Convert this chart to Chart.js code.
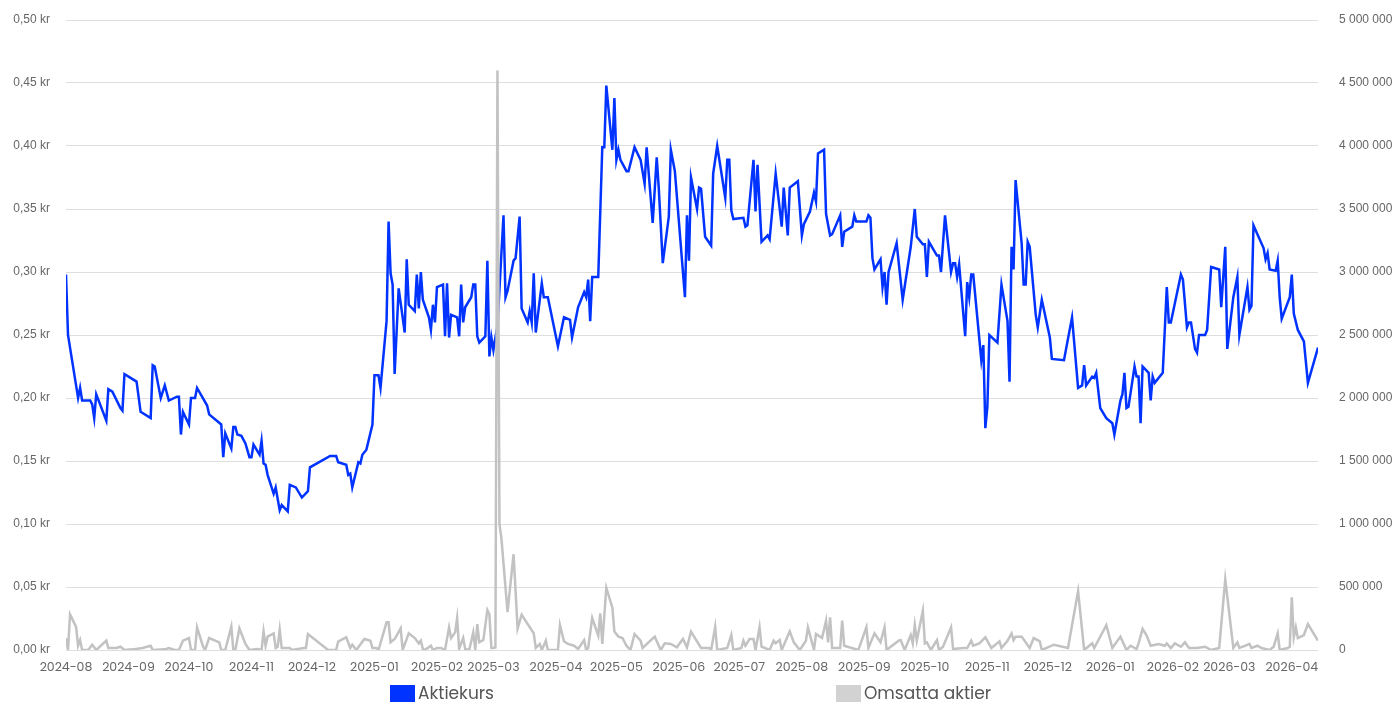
<!DOCTYPE html>
<html lang="sv">

<head>
    <meta charset="UTF-8">
    <meta name="viewport" content="width=device-width, initial-scale=1.0">
    <script src="https://cdn.jsdelivr.net/npm/chart.js"></script>
    <title>Aktiekurs och omsättning</title>
    <style>
        body { margin: 0; background: #fff; }
        .wrap { position: relative; width: 1397px; height: 702px; overflow: hidden; }
        #chart_aktie { display: block; }
        .legend-item { position: absolute; top: 683px; height: 20px; display: flex; align-items: center;
            font-family: Poppins, "Open Sans", sans-serif; font-size: 17px; color: #555; }
        .legend-box { width: 25px; height: 17px; margin-right: 3px; }
    </style>
</head>

<body>
    <div class="wrap">
        <canvas id="chart_aktie" width="1397" height="702"></canvas>
        <div class="legend-item" style="left:390px"><span class="legend-box" style="background:#0033ff"></span>Aktiekurs</div>
        <div class="legend-item" style="left:836px"><span class="legend-box" style="background:#d2d2d2"></span>Omsatta aktier</div>
    </div>

<script>
    // Aktiekurs (kr) per handelsdag
    var kursDatum = [
        '2024-08-01','2024-08-02','2024-08-03','2024-08-07','2024-08-08','2024-08-09','2024-08-13','2024-08-14','2024-08-15','2024-08-16',
        '2024-08-21','2024-08-22','2024-08-24','2024-08-28','2024-08-29','2024-08-30',
        '2024-09-01','2024-09-05','2024-09-07','2024-09-12','2024-09-13','2024-09-14','2024-09-17','2024-09-19','2024-09-21','2024-09-25',
        '2024-09-26','2024-09-27','2024-09-28',
        '2024-10-01','2024-10-02','2024-10-04','2024-10-05','2024-10-10','2024-10-11','2024-10-17','2024-10-18','2024-10-19','2024-10-22',
        '2024-10-23','2024-10-24','2024-10-25','2024-10-27','2024-10-29','2024-10-31',
        '2024-11-01','2024-11-02','2024-11-05','2024-11-06','2024-11-07','2024-11-08','2024-11-09','2024-11-12','2024-11-13','2024-11-15',
        '2024-11-16','2024-11-19','2024-11-20','2024-11-23','2024-11-26','2024-11-29','2024-11-30',
        '2024-12-10','2024-12-13','2024-12-14','2024-12-18','2024-12-19','2024-12-20','2024-12-21','2024-12-24','2024-12-25','2024-12-26',
        '2024-12-28','2024-12-31',
        '2025-01-01','2025-01-03','2025-01-04','2025-01-07','2025-01-08','2025-01-09','2025-01-10','2025-01-11','2025-01-13','2025-01-16',
        '2025-01-17','2025-01-18','2025-01-21','2025-01-22','2025-01-23','2025-01-24','2025-01-25','2025-01-28','2025-01-29','2025-01-30',
        '2025-01-31',
        '2025-02-01','2025-02-04','2025-02-05','2025-02-06','2025-02-07','2025-02-08','2025-02-11','2025-02-12','2025-02-13','2025-02-14',
        '2025-02-15','2025-02-18','2025-02-19','2025-02-20','2025-02-21','2025-02-22','2025-02-25','2025-02-26','2025-02-27','2025-02-28',
        '2025-03-01','2025-03-02','2025-03-03','2025-03-06','2025-03-07','2025-03-08','2025-03-11','2025-03-12','2025-03-14','2025-03-15',
        '2025-03-18','2025-03-19','2025-03-20','2025-03-21','2025-03-22','2025-03-25','2025-03-26','2025-03-28',
        '2025-04-02','2025-04-05','2025-04-08','2025-04-09','2025-04-12','2025-04-15','2025-04-16','2025-04-17','2025-04-18','2025-04-19',
        '2025-04-22','2025-04-24','2025-04-25','2025-04-26','2025-04-29','2025-04-30',
        '2025-05-01','2025-05-02','2025-05-03','2025-05-06','2025-05-07','2025-05-10','2025-05-13','2025-05-15','2025-05-16','2025-05-19',
        '2025-05-21','2025-05-22','2025-05-24','2025-05-27','2025-05-28','2025-05-30',
        '2025-06-04','2025-06-05','2025-06-06','2025-06-07','2025-06-10','2025-06-11','2025-06-12','2025-06-14','2025-06-17','2025-06-18',
        '2025-06-20','2025-06-24','2025-06-25','2025-06-26','2025-06-27','2025-06-28',
        '2025-07-03','2025-07-04','2025-07-05','2025-07-08','2025-07-09','2025-07-10','2025-07-12','2025-07-15','2025-07-16','2025-07-19',
        '2025-07-22','2025-07-23','2025-07-25','2025-07-26','2025-07-30',
        '2025-08-01','2025-08-02','2025-08-05','2025-08-07','2025-08-08','2025-08-09','2025-08-12','2025-08-13','2025-08-15','2025-08-16',
        '2025-08-20','2025-08-21','2025-08-22','2025-08-26','2025-08-27','2025-08-28',
        '2025-09-02','2025-09-03','2025-09-04','2025-09-05','2025-09-06','2025-09-09','2025-09-10','2025-09-11','2025-09-12','2025-09-13',
        '2025-09-17','2025-09-20','2025-09-24','2025-09-26','2025-09-27','2025-09-30',
        '2025-10-01','2025-10-02','2025-10-03','2025-10-07','2025-10-08','2025-10-09','2025-10-11','2025-10-14','2025-10-15','2025-10-16',
        '2025-10-17','2025-10-18','2025-10-21','2025-10-22','2025-10-23','2025-10-24','2025-10-25','2025-10-29','2025-10-30','2025-10-31',
        '2025-11-01','2025-11-02','2025-11-06','2025-11-08','2025-11-11','2025-11-12','2025-11-13','2025-11-14','2025-11-15','2025-11-18',
        '2025-11-19','2025-11-20','2025-11-21','2025-11-22','2025-11-25','2025-11-26','2025-11-28',
        '2025-12-02','2025-12-03','2025-12-09','2025-12-13','2025-12-16','2025-12-18','2025-12-19','2025-12-20','2025-12-23','2025-12-24',
        '2025-12-25','2025-12-27','2025-12-30',
        '2026-01-02','2026-01-03','2026-01-06','2026-01-07','2026-01-08','2026-01-09','2026-01-10','2026-01-13','2026-01-14','2026-01-15',
        '2026-01-16','2026-01-17','2026-01-20','2026-01-21','2026-01-22','2026-01-23','2026-01-27','2026-01-29','2026-01-30','2026-01-31',
        '2026-02-05','2026-02-06','2026-02-08','2026-02-09','2026-02-10','2026-02-12','2026-02-13','2026-02-14','2026-02-17','2026-02-18',
        '2026-02-20','2026-02-24','2026-02-25','2026-02-27','2026-02-28',
        '2026-03-03','2026-03-05','2026-03-06','2026-03-10','2026-03-11','2026-03-12','2026-03-13','2026-03-18','2026-03-19','2026-03-20',
        '2026-03-21','2026-03-24','2026-03-25','2026-03-26','2026-03-27','2026-03-31',
        '2026-04-01','2026-04-02','2026-04-04','2026-04-07','2026-04-09','2026-04-14'
    ];
    var kurs = [
        0.298,0.250,0.240,0.200,0.208,0.198,0.198,0.195,0.184,0.203,
        0.182,0.207,0.205,0.192,0.190,0.219,
        0.217,0.213,0.189,0.184,0.226,0.225,0.200,0.210,0.198,0.201,
        0.201,0.171,0.189,
        0.179,0.200,0.200,0.208,0.194,0.187,0.179,0.153,0.172,0.160,
        0.177,0.177,0.171,0.170,0.164,0.153,
        0.153,0.163,0.155,0.166,0.148,0.147,0.139,0.124,0.129,0.111,
        0.115,0.110,0.131,0.129,0.121,0.126,0.145,
        0.154,0.154,0.149,0.147,0.139,0.140,0.129,0.149,0.148,0.155,
        0.159,0.179,
        0.218,0.218,0.208,0.261,0.340,0.299,0.290,0.219,0.287,0.252,
        0.310,0.274,0.269,0.298,0.271,0.300,0.278,0.264,0.254,0.274,
        0.260,
        0.288,0.290,0.249,0.291,0.248,0.266,0.264,0.249,0.290,0.260,
        0.272,0.280,0.290,0.290,0.249,0.244,0.249,0.309,0.233,0.248,
        0.238,0.248,0.257,0.345,0.280,0.285,0.309,0.311,0.344,0.271,
        0.260,0.269,0.260,0.299,0.252,0.291,0.280,0.280,
        0.241,0.264,0.262,0.248,0.272,0.284,0.280,0.294,0.261,0.296,
        0.296,0.399,0.399,0.448,0.397,0.438,
        0.389,0.397,0.389,0.380,0.380,0.399,0.389,0.370,0.399,0.339,
        0.391,0.367,0.307,0.344,0.397,0.380,
        0.280,0.345,0.309,0.375,0.350,0.367,0.366,0.328,0.321,0.378,
        0.400,0.359,0.389,0.389,0.349,0.342,
        0.343,0.336,0.337,0.389,0.348,0.385,0.324,0.329,0.326,0.378,
        0.336,0.367,0.329,0.367,0.372,
        0.329,0.338,0.348,0.363,0.356,0.394,0.397,0.346,0.329,0.330,
        0.345,0.320,0.332,0.336,0.345,0.340,
        0.340,0.345,0.343,0.311,0.302,0.310,0.288,0.300,0.274,0.300,
        0.323,0.278,0.320,0.350,0.328,0.322,
        0.322,0.296,0.324,0.313,0.313,0.300,0.345,0.300,0.307,0.307,
        0.296,0.306,0.249,0.292,0.280,0.298,0.298,0.230,0.242,0.176,
        0.193,0.250,0.244,0.290,0.261,0.213,0.320,0.302,0.373,0.323,
        0.290,0.290,0.324,0.320,0.266,0.256,0.278,
        0.248,0.231,0.230,0.264,0.208,0.210,0.226,0.210,0.217,0.216,
        0.220,0.192,0.184,
        0.180,0.171,0.198,0.203,0.220,0.192,0.193,0.225,0.217,0.217,
        0.180,0.225,0.220,0.198,0.217,0.212,0.220,0.288,0.260,0.260,
        0.298,0.294,0.256,0.260,0.260,0.239,0.236,0.250,0.250,0.254,
        0.304,0.302,0.272,0.320,0.239,
        0.280,0.296,0.250,0.288,0.270,0.273,0.337,0.319,0.310,0.315,
        0.302,0.301,0.309,0.280,0.263,0.280,
        0.298,0.267,0.254,0.245,0.212,0.240
    ];

    // Omsatta aktier per dag
    var volymDatum = [
        '2024-08-01','2024-08-02','2024-08-03','2024-08-06','2024-08-07','2024-08-08','2024-08-09','2024-08-12','2024-08-14','2024-08-16',
        '2024-08-21','2024-08-22','2024-08-26','2024-08-28','2024-08-30',
        '2024-09-03','2024-09-08','2024-09-12','2024-09-13','2024-09-19','2024-09-21','2024-09-24','2024-09-26','2024-09-28',
        '2024-10-01','2024-10-02','2024-10-04','2024-10-05','2024-10-08','2024-10-09','2024-10-11','2024-10-16','2024-10-17','2024-10-19',
        '2024-10-22','2024-10-23','2024-10-24','2024-10-26','2024-10-29','2024-10-31',
        '2024-11-04','2024-11-06','2024-11-07','2024-11-08','2024-11-09','2024-11-12','2024-11-13','2024-11-14','2024-11-15','2024-11-16',
        '2024-11-20','2024-11-21','2024-11-27','2024-11-28','2024-11-29',
        '2024-12-09','2024-12-13','2024-12-14','2024-12-18','2024-12-20','2024-12-21','2024-12-23','2024-12-27','2024-12-30','2024-12-31',
        '2025-01-02','2025-01-03','2025-01-07','2025-01-08','2025-01-09','2025-01-11','2025-01-14','2025-01-15','2025-01-18','2025-01-21',
        '2025-01-23','2025-01-24','2025-01-25','2025-01-26','2025-01-29','2025-01-30',
        '2025-02-01','2025-02-03','2025-02-05','2025-02-07','2025-02-08','2025-02-10','2025-02-11','2025-02-12','2025-02-14','2025-02-15',
        '2025-02-17','2025-02-19','2025-02-20','2025-02-21','2025-02-22','2025-02-24','2025-02-26','2025-02-27','2025-02-28',
        '2025-03-01','2025-03-02','2025-03-03','2025-03-04','2025-03-05','2025-03-08','2025-03-11','2025-03-13','2025-03-15','2025-03-21',
        '2025-03-22','2025-03-24','2025-03-25','2025-03-27','2025-03-28',
        '2025-04-02','2025-04-03','2025-04-05','2025-04-07','2025-04-10','2025-04-12','2025-04-15','2025-04-16','2025-04-17','2025-04-19',
        '2025-04-22','2025-04-23','2025-04-24','2025-04-26','2025-04-29','2025-04-30',
        '2025-05-02','2025-05-04','2025-05-06','2025-05-08','2025-05-10','2025-05-13','2025-05-14','2025-05-20','2025-05-23','2025-05-25',
        '2025-05-28','2025-05-31',
        '2025-06-03','2025-06-05','2025-06-07','2025-06-12','2025-06-16','2025-06-17','2025-06-19','2025-06-20','2025-06-25','2025-06-27',
        '2025-06-28',
        '2025-07-02','2025-07-03','2025-07-04','2025-07-06','2025-07-08','2025-07-09','2025-07-11','2025-07-12','2025-07-16','2025-07-18',
        '2025-07-19','2025-07-21','2025-07-22','2025-07-26','2025-07-28','2025-07-31',
        '2025-08-03','2025-08-04','2025-08-07','2025-08-08','2025-08-11','2025-08-13','2025-08-14','2025-08-15','2025-08-16','2025-08-20',
        '2025-08-21','2025-08-22','2025-08-29',
        '2025-09-02','2025-09-03','2025-09-06','2025-09-09','2025-09-11','2025-09-12','2025-09-18','2025-09-19','2025-09-21','2025-09-24',
        '2025-09-25','2025-09-26','2025-09-27','2025-09-30',
        '2025-10-01','2025-10-02','2025-10-04','2025-10-07','2025-10-08','2025-10-10','2025-10-14','2025-10-15','2025-10-20','2025-10-22',
        '2025-10-24','2025-10-25','2025-10-28','2025-10-31',
        '2025-11-03','2025-11-07','2025-11-08','2025-11-11','2025-11-13','2025-11-14','2025-11-15','2025-11-18','2025-11-22','2025-11-24',
        '2025-11-27','2025-11-28',
        '2025-12-04','2025-12-11','2025-12-16','2025-12-19','2025-12-23','2025-12-24','2025-12-30',
        '2026-01-02','2026-01-06','2026-01-09','2026-01-11','2026-01-14','2026-01-15','2026-01-17','2026-01-19','2026-01-21','2026-01-25',
        '2026-01-28','2026-01-29','2026-01-31',
        '2026-02-02','2026-02-05','2026-02-07','2026-02-09','2026-02-13','2026-02-17','2026-02-20','2026-02-24','2026-02-27',
        '2026-03-03','2026-03-05','2026-03-06','2026-03-09','2026-03-11','2026-03-12','2026-03-15','2026-03-17','2026-03-21','2026-03-23',
        '2026-03-25','2026-03-26','2026-03-30','2026-03-31',
        '2026-04-01','2026-04-02','2026-04-03','2026-04-04','2026-04-07','2026-04-09','2026-04-14'
    ];
    var volym = [
        93000,0,283000,183000,34000,79000,0,0,42000,0,
        74000,16000,16000,26000,0,
        5000,16000,34000,0,5000,16000,0,0,74000,
        95000,0,0,180000,26000,0,95000,61000,0,0,
        185000,0,0,172000,48000,0,
        8000,0,148000,34000,106000,132000,16000,26000,161000,16000,
        16000,0,16000,16000,127000,
        0,0,66000,101000,16000,42000,0,87000,74000,16000,
        16000,0,220000,220000,61000,87000,172000,0,132000,95000,
        53000,74000,8000,0,34000,0,
        16000,16000,0,180000,95000,140000,254000,8000,95000,8000,
        0,140000,0,206000,61000,79000,317000,283000,16000,
        16000,20000,4600000,1000000,880000,300000,760000,170000,280000,132000,
        16000,48000,0,74000,0,
        0,198000,69000,48000,34000,8000,79000,0,16000,254000,
        114000,291000,48000,494000,336000,146000,
        106000,95000,34000,0,127000,74000,16000,106000,0,53000,
        48000,21000,
        87000,21000,146000,16000,16000,0,183000,0,16000,119000,
        0,
        16000,74000,34000,87000,87000,0,180000,26000,0,74000,
        53000,79000,0,148000,61000,0,
        74000,180000,0,127000,95000,233000,61000,260000,16000,16000,
        233000,34000,0,
        180000,16000,132000,61000,180000,0,74000,79000,0,119000,
        53000,198000,74000,312000,
        53000,61000,0,79000,0,26000,180000,8000,16000,16000,
        74000,34000,53000,101000,
        16000,69000,16000,74000,132000,79000,106000,106000,16000,95000,
        69000,0,
        42000,16000,468000,0,53000,16000,198000,
        16000,106000,0,34000,8000,53000,167000,114000,34000,48000,
        34000,53000,16000,
        53000,26000,61000,16000,16000,26000,0,16000,561000,
        16000,61000,16000,34000,48000,16000,34000,16000,0,26000,
        132000,0,16000,26000,
        418000,101000,180000,95000,119000,206000,74000
    ];

    // Etiketter på x-axeln (en per månad)
    var manader = ['2024-08','2024-09','2024-10','2024-11','2024-12','2025-01','2025-02','2025-03','2025-04','2025-05','2025-06',
        '2025-07','2025-08','2025-09','2025-10','2025-11','2025-12','2026-01','2026-02','2026-03','2026-04'];

    var start = Date.parse('2024-08-01');
    function dag(datum) {
        return Math.round((Date.parse(datum) - start) / 86400000);
    }

    function mellanslag(n) {
        return String(n).replace(/\B(?=(\d{3})+(?!\d))/g, ' ');
    }

    var manadsDagar = manader.map(function (m) { return dag(m + '-01'); });

    var axelFont = { family: "Helvetica, Arial, sans-serif", size: 12 };
    var datumFont = { family: "Poppins, 'Open Sans', sans-serif", size: 12.5 };

    // y-axlarnas tick-padding ska inte flytta ritytans över-/underkant
    function fastBredd(bredd) {
        return function (scale) {
            scale.width = bredd;
            scale.paddingTop = 0;
            scale.paddingBottom = 0;
        };
    }

    const config_aktie = {
        type: 'line',
        data: {
            datasets: [{
                label: 'Aktiekurs',
                data: kursDatum.map(function (d, i) { return { x: dag(d), y: kurs[i] }; }),
                borderColor: '#0033ff',
                backgroundColor: '#0033ff',
                borderWidth: 2.5,
                pointRadius: 0,
                tension: 0,
                yAxisID: 'y',
                order: 1
            }, {
                label: 'Omsatta aktier',
                data: volymDatum.map(function (d, i) { return { x: dag(d), y: volym[i] }; }),
                borderColor: '#c2c2c2',
                backgroundColor: '#d2d2d2',
                borderWidth: 2.5,
                pointRadius: 0,
                tension: 0,
                yAxisID: 'y1',
                order: 0
            }]
        },
        options: {
            responsive: false,
            animation: false,
            layout: { padding: { top: 20, bottom: 22, left: 0, right: 0 } },
            plugins: {
                legend: { display: false },
                tooltip: { enabled: false }
            },
            scales: {
                x: {
                    type: 'linear',
                    min: 0,
                    max: dag(kursDatum[kursDatum.length - 1]),
                    grid: { display: false, drawTicks: false },
                    border: { display: false },
                    afterBuildTicks: function (scale) {
                        scale.ticks = manadsDagar.map(function (v) { return { value: v }; });
                    },
                    afterFit: function (scale) { scale.height = 30; },
                    ticks: {
                        autoSkip: false,
                        maxRotation: 0,
                        padding: 10,
                        color: '#666',
                        font: datumFont,
                        callback: function (value) {
                            var i = manadsDagar.indexOf(value);
                            return i >= 0 ? manader[i] : '';
                        }
                    }
                },
                y: {
                    position: 'left',
                    min: 0,
                    max: 0.5,
                    grid: { color: '#dedede', drawTicks: false },
                    border: { display: false },
                    afterFit: fastBredd(66),
                    ticks: {
                        stepSize: 0.05,
                        padding: 16,
                        color: '#666',
                        font: axelFont,
                        callback: function (value) {
                            return value.toFixed(2).replace('.', ',') + ' kr';
                        }
                    }
                },
                y1: {
                    position: 'right',
                    min: 0,
                    max: 5000000,
                    grid: { display: false },
                    border: { display: false },
                    afterFit: fastBredd(79),
                    ticks: {
                        stepSize: 500000,
                        padding: 13,
                        color: '#666',
                        font: axelFont,
                        callback: function (value) { return mellanslag(value); }
                    }
                }
            }
        }
    };

    const chart_aktie = new Chart(
        document.getElementById('chart_aktie'),
        config_aktie
    );
</script>
</body>
</html>
